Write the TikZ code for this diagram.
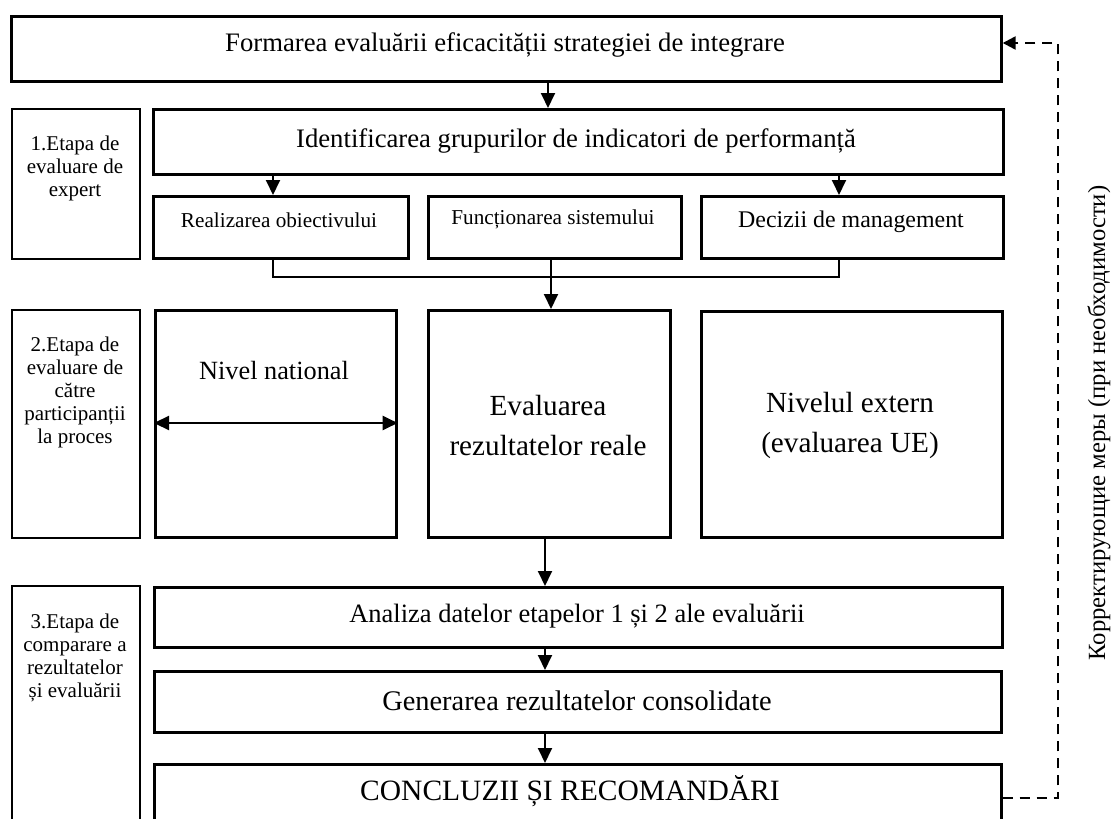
\documentclass[tikz,border=0pt]{standalone}
\usepackage{fontspec}
\setmainfont{Liberation Serif}
\usetikzlibrary{arrows.meta,calc}
\newcommand{\fsMain}{\fontsize{26.7}{32}\selectfont}
\newcommand{\fsSmall}{\fontsize{21.2}{24}\selectfont}
\newcommand{\fsDec}{\fontsize{23.9}{27}\selectfont}
\newcommand{\fsStage}{\fontsize{21}{23}\selectfont}
\newcommand{\fsMid}{\fontsize{29.2}{40}\selectfont}
\newcommand{\fsNat}{\fontsize{26.3}{30}\selectfont}
\newcommand{\fsAna}{\fontsize{26.5}{30}\selectfont}
\newcommand{\fsGen}{\fontsize{28.4}{32}\selectfont}
\newcommand{\fsCon}{\fontsize{29.5}{33}\selectfont}
\newcommand{\fsRus}{\fontsize{24.7}{28}\selectfont}
\begin{document}
\begin{tikzpicture}[x=1pt,y=-1pt,
  mainbox/.style={draw, line width=2.7pt, inner sep=0pt, anchor=north west},
  stagebox/.style={draw, line width=1.5pt, inner sep=0pt, anchor=north west},
  txt/.style={inner sep=0pt, align=center},
  arr/.style={-{Triangle[length=15pt,width=14pt]}, line width=1.9pt},
  dblarr/.style={{Triangle[length=15pt,width=14pt]}-{Triangle[length=15pt,width=14pt]}, line width=2.2pt},
  bracket/.style={line width=1.5pt},
  feedback/.style={-{Triangle[length=13pt,width=13pt]}, line width=2.4pt, dash pattern=on 10pt off 7pt}]
\clip (0,0) rectangle (1112,819);
\fill[white] (0,0) rectangle (1112,819);

% ---- boxes
\node[mainbox, minimum width=990, minimum height=65] (top) at (10,15) {};
\node[mainbox, minimum width=850, minimum height=65] (ident) at (152,108) {};
\node[mainbox, minimum width=255, minimum height=62] (real) at (152,195) {};
\node[mainbox, minimum width=253, minimum height=62] (func) at (427,195) {};
\node[mainbox, minimum width=302, minimum height=62] (dec) at (700,195) {};
\node[stagebox, minimum width=128, minimum height=150] (st1) at (11,108) {};

\node[mainbox, minimum width=241, minimum height=227] (nat) at (154,309) {};
\node[mainbox, minimum width=242, minimum height=227] (eval) at (427,309) {};
\node[mainbox, minimum width=301, minimum height=226] (ext) at (700,310) {};
\node[stagebox, minimum width=128, minimum height=228] (st2) at (11,309) {};

\node[mainbox, minimum width=848, minimum height=60] (ana) at (153,586) {};
\node[mainbox, minimum width=847, minimum height=61] (gen) at (153,670) {};
\node[mainbox, minimum width=847, minimum height=80] (concl) at (153,763) {};
\node[stagebox, minimum width=128, minimum height=260] (st3) at (11,585) {};

% ---- texts
\node[txt, font=\fsMain] (tTop) at (505,45) {Formarea evaluării eficacității strategiei de integrare};
\node[txt, font=\fsMain] (tIdent) at (576,141) {Identificarea grupurilor de indicatori de performanță};
\node[txt, font=\fsSmall] (tReal) at (279,220) {Realizarea obiectivului};
\node[txt, font=\fsSmall] (tFunc) at (553,219) {Funcționarea sistemului};
\node[txt, font=\fsDec] (tDec) at (851,222) {Decizii de management};
\node[txt, font=\fsStage, anchor=north] (tSt1) at (75,136) {1.Etapa de\\evaluare de\\expert};

\node[txt, font=\fsNat] (tNat) at (274,371) {Nivel national};
\node[txt, font=\fsMid] (tEval) at (548,426) {Evaluarea\\rezultatelor reale};
\node[txt, font=\fsMid] (tExt) at (850,425) {Nivelul extern\\(evaluarea UE)};
\node[txt, font=\fsStage, anchor=north] (tSt2) at (75,337) {2.Etapa de\\evaluare de\\către\\participanții\\la proces};

\node[txt, font=\fsAna] (tAna) at (577,616) {Analiza datelor etapelor 1 și 2 ale evaluării};
\node[txt, font=\fsGen] (tGen) at (577,701) {Generarea rezultatelor consolidate};
\node[txt, font=\fsCon] (tCon) at (570,791) {CONCLUZII ȘI RECOMANDĂRI};
\node[txt, font=\fsStage, anchor=north] (tSt3) at (75,614) {3.Etapa de\\comparare a\\rezultatelor\\și evaluării};

\node[txt, font=\fsRus, rotate=90] (tRus) at (1099,423) {Корректирующие меры (при необходимости)};

% ---- connector columns
\coordinate (colA) at (548,0);
\coordinate (colL) at (273,0);
\coordinate (colR) at (839,0);
\coordinate (colM) at (551,0);
\coordinate (colB) at (545,0);
\coordinate (brY) at (0,277);
\coordinate (dblY) at (0,423);
\coordinate (fbBot) at (1058,798);
\coordinate (fbTop) at (1058,43);

% ---- connectors
\draw[arr] (top.south -| colA) -- (ident.north -| colA);
\draw[arr] (ident.south -| colL) -- (real.north -| colL);
\draw[arr] (ident.south -| colR) -- (dec.north -| colR);
\draw[bracket] (real.south -| colL) -- (colL |- brY) -- (colR |- brY) -- (dec.south -| colR);
\draw[arr] (func.south -| colM) -- (eval.north -| colM);
\draw[dblarr] (nat.west |- dblY) -- (nat.east |- dblY);
\draw[arr] (eval.south -| colB) -- (ana.north -| colB);
\draw[arr] (ana.south -| colB) -- (gen.north -| colB);
\draw[arr] (gen.south -| colB) -- (concl.north -| colB);
\draw[feedback] (concl.east |- fbBot) -- (fbBot) -- (fbTop) -- (top.east |- fbTop);
\end{tikzpicture}
\end{document}
